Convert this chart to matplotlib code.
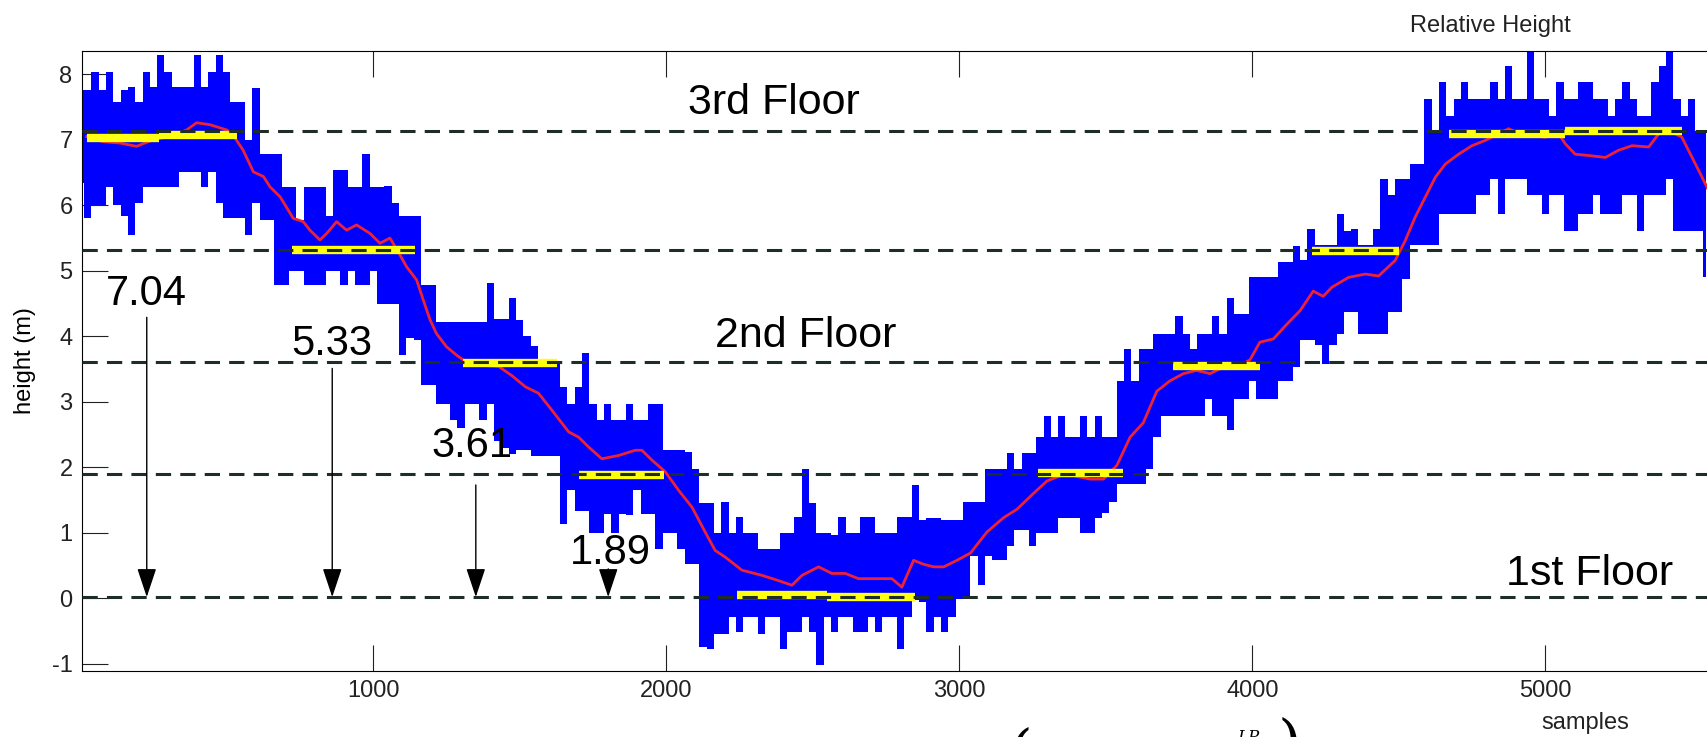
import matplotlib
matplotlib.use("Agg")
import matplotlib.pyplot as plt
import numpy as np

# -------------------------
# Global style (MATLAB-like)
# -------------------------
plt.rcParams.update({
    "font.family": ["Liberation Sans", "DejaVu Sans"],
    "font.size": 17,
    "axes.linewidth": 0.8,
    "axes.unicode_minus": False,
    "xtick.direction": "in",
    "ytick.direction": "in",
    "xtick.major.size": 19,
    "ytick.major.size": 19,
    "xtick.major.width": 0.8,
    "ytick.major.width": 0.8,
    "xtick.labelsize": 17,
    "ytick.labelsize": 17,
})

# -------------------------
# Data
# -------------------------
# raw barometer trace: upper / lower envelope every 25 samples
step_samples = 25
blue_upper = [
    7.76, 7.76, 8.04, 7.76, 8.04, 7.58, 7.76, 7.81,   # 0-175
    7.58, 8.04, 7.81, 8.30, 8.04, 7.81, 7.81, 7.81,   # 200-375
    8.30, 7.81, 8.04, 8.30, 8.04, 7.58, 7.58, 7.00,   # 400-575
    7.79, 6.79, 6.79, 6.79, 6.28, 6.28, 5.78, 6.28,   # 600-775
    6.28, 6.28, 5.83, 6.54, 6.54, 6.28, 6.28, 6.79,   # 800-975
    6.28, 6.28, 6.30, 6.03, 5.83, 5.83, 5.83, 4.78,   # 1000-1175
    4.78, 4.22, 4.22, 4.22, 4.22, 4.22, 4.22, 4.22,   # 1200-1375
    4.81, 4.27, 4.27, 4.58, 4.25, 4.00, 3.85, 3.58,   # 1400-1575
    3.58, 3.58, 3.23, 2.97, 3.23, 3.74, 2.97, 2.72,   # 1600-1775
    2.97, 2.72, 2.72, 2.97, 2.72, 2.72, 2.97, 2.97,   # 1800-1975
    2.26, 2.26, 2.26, 2.23, 1.98, 1.45, 1.45, 0.99,   # 2000-2175
    1.47, 0.99, 1.24, 0.99, 0.99, 0.76, 0.76, 0.76,   # 2200-2375
    0.99, 0.99, 1.24, 1.98, 1.45, 0.99, 0.99, 0.96,   # 2400-2575
    1.24, 0.99, 0.99, 1.24, 1.24, 0.99, 0.99, 0.99,   # 2600-2775
    1.24, 1.24, 1.73, 1.20, 1.23, 1.23, 1.20, 1.20,   # 2800-2975
    1.20, 1.47, 1.47, 1.47, 1.98, 1.98, 1.98, 2.22,   # 3000-3175
    1.98, 2.22, 2.22, 2.46, 2.78, 2.46, 2.78, 2.46,   # 3200-3375
    2.46, 2.78, 2.46, 2.78, 2.46, 2.46, 3.32, 3.80,   # 3400-3575
    3.32, 3.80, 3.80, 4.04, 4.04, 4.04, 4.31, 4.04,   # 3600-3775
    3.80, 4.04, 4.04, 4.31, 4.04, 4.58, 4.34, 4.34,   # 3800-3975
    4.90, 4.90, 4.90, 4.90, 5.14, 5.14, 5.38, 5.16,   # 4000-4175
    5.64, 5.39, 5.39, 5.39, 5.87, 5.61, 5.64, 5.39,   # 4200-4375
    5.39, 5.64, 6.40, 6.15, 6.40, 6.40, 6.63, 6.63,   # 4400-4575
    7.62, 7.14, 7.88, 7.37, 7.62, 7.88, 7.62, 7.62,   # 4600-4775
    7.62, 7.88, 7.62, 8.13, 7.62, 7.62, 8.35, 7.62,   # 4800-4975
    7.62, 7.37, 7.88, 7.62, 7.62, 7.88, 7.88, 7.62,   # 5000-5175
    7.62, 7.37, 7.62, 7.88, 7.62, 7.37, 7.37, 7.88,   # 5200-5375
    8.13, 8.35, 7.62, 7.37, 7.62, 7.14, 7.14,         # 5400-5550
]
blue_lower = [
    6.34, 5.80, 6.00, 6.00, 6.28, 6.00, 5.83, 5.55,
    6.03, 6.28, 6.28, 6.28, 6.28, 6.28, 6.51, 6.51,
    6.51, 6.28, 6.51, 6.03, 5.80, 5.80, 5.80, 5.55,
    6.03, 5.77, 5.77, 4.78, 4.78, 5.00, 5.00, 4.78,
    4.78, 4.78, 5.00, 5.00, 4.78, 5.00, 4.78, 4.78,
    5.00, 4.50, 4.50, 4.50, 3.71, 3.97, 3.95, 3.25,
    3.25, 2.97, 2.97, 2.72, 2.60, 2.97, 2.97, 2.72,
    2.97, 2.40, 2.30, 2.20, 2.26, 2.26, 2.18, 2.18,
    2.18, 2.18, 1.14, 1.65, 1.34, 1.34, 0.99, 0.99,
    1.29, 0.99, 1.29, 1.27, 1.65, 1.29, 1.29, 0.76,
    0.99, 0.99, 0.76, 0.53, 0.53, -0.74, -0.77, -0.54,
    -0.54, -0.29, -0.51, -0.29, -0.29, -0.54, -0.29, -0.29,
    -0.77, -0.51, -0.51, -0.29, -0.51, -1.02, -0.29, -0.51,
    -0.29, -0.29, -0.51, -0.51, -0.29, -0.51, -0.29, -0.29,
    -0.77, -0.29, -0.03, -0.05, -0.52, -0.28, -0.52, -0.28,
    -0.01, -0.01, 0.64, 0.21, 0.64, 0.59, 0.59, 0.80,
    1.04, 1.04, 0.80, 1.00, 1.00, 1.00, 1.23, 1.23,
    1.23, 1.00, 1.00, 1.23, 1.31, 1.47, 1.74, 1.74,
    1.74, 1.74, 1.98, 2.46, 2.78, 2.78, 2.78, 2.78,
    2.78, 2.78, 3.05, 2.78, 2.78, 2.57, 3.05, 3.05,
    3.32, 3.05, 3.05, 3.05, 3.32, 3.32, 3.53, 3.94,
    3.94, 3.86, 3.58, 3.86, 4.04, 4.37, 4.37, 4.04,
    4.04, 4.04, 4.04, 4.37, 4.37, 4.88, 5.39, 5.39,
    5.39, 5.39, 5.87, 5.87, 5.87, 5.87, 5.87, 6.15,
    6.15, 6.40, 5.87, 6.40, 6.40, 6.40, 6.15, 6.15,
    5.87, 6.15, 6.15, 5.61, 5.61, 5.87, 5.87, 6.15,
    5.87, 5.87, 5.87, 6.15, 6.15, 5.61, 6.15, 6.15,
    6.15, 6.40, 5.61, 5.61, 5.61, 5.61, 4.90,
]

# smoothed (low-pass) height
red_x = [22, 79, 136, 192, 249, 306, 363, 397, 443, 500, 522, 556, 591, 625, 648,
         682, 727, 761, 784, 818, 841, 875, 909, 943, 989, 1023, 1057, 1085, 1114,
         1148, 1171, 1194, 1216, 1250, 1285, 1307, 1360, 1428, 1473, 1519, 1564,
         1610, 1667, 1701, 1735, 1780, 1837, 1894, 1917, 1951, 1997, 2042, 2088,
         2133, 2167, 2201, 2258, 2327, 2383, 2429, 2463, 2520, 2565, 2611, 2656,
         2725, 2770, 2804, 2844, 2878, 2913, 2947, 2992, 3038, 3094, 3151, 3197,
         3253, 3299, 3344, 3390, 3447, 3492, 3538, 3583, 3628, 3674, 3719, 3765,
         3810, 3856, 3901, 3947, 3992, 4026, 4072, 4117, 4163, 4208, 4242, 4272,
         4329, 4386, 4431, 4488, 4522, 4556, 4590, 4625, 4659, 4704, 4750, 4795,
         4841, 4875, 4909, 4954, 5000, 5046, 5068, 5102, 5148, 5205, 5250, 5296,
         5353, 5387, 5421, 5466, 5501, 5535, 5560]
red_y = [7.05, 6.97, 6.95, 6.90, 7.00, 7.05, 7.15, 7.26, 7.23, 7.15, 7.07, 6.84, 6.51, 6.44, 6.28,
         6.13, 5.80, 5.75, 5.62, 5.47, 5.57, 5.75, 5.62, 5.70, 5.57, 5.42, 5.50, 5.29, 5.06,
         4.86, 4.55, 4.25, 4.04, 3.84, 3.71, 3.64, 3.56, 3.54, 3.40, 3.23, 3.13,
         2.87, 2.54, 2.46, 2.31, 2.13, 2.18, 2.26, 2.26, 2.11, 1.93, 1.65, 1.39,
         1.01, 0.73, 0.63, 0.43, 0.35, 0.27, 0.20, 0.35, 0.48, 0.38, 0.38, 0.30,
         0.30, 0.30, 0.17, 0.58, 0.52, 0.48, 0.48, 0.58, 0.69, 1.01, 1.23, 1.36,
         1.60, 1.79, 1.87, 1.87, 1.82, 1.82, 2.03, 2.46, 2.68, 3.16, 3.32, 3.43,
         3.48, 3.43, 3.53, 3.53, 3.64, 3.91, 3.96, 4.18, 4.39, 4.69, 4.61, 4.75,
         4.90, 4.95, 4.92, 5.16, 5.46, 5.82, 6.12, 6.43, 6.63, 6.78, 6.91, 6.99,
         7.09, 7.17, 7.09, 7.06, 7.04, 7.09, 6.94, 6.78, 6.76, 6.73, 6.84, 6.91,
         6.89, 7.09, 7.14, 7.04, 6.73, 6.43, 6.20]

# detected stationary segments (yellow)
yellow_start = [22, 270, 721, 1307, 1701, 2241, 2548, 3270, 3731, 4204, 4670, 5068]
yellow_end = [270, 534, 1142, 1627, 1991, 2548, 2850, 3560, 4026, 4500, 5068, 5466]
yellow_level = [7.03, 7.08, 5.31, 3.60, 1.89, 0.05, 0.02, 1.92, 3.54, 5.30, 7.09, 7.13]

# reference floor levels (dashed)
floor_levels = [0.02, 1.90, 3.61, 5.31, 7.13]

# height annotations
height_labels = ["7.04", "5.33", "3.61", "1.89"]
label_x = [227, 857, 1337, 1808]
label_y = [4.48, 3.71, 2.16, 0.53]
arrow_x = [227, 860, 1350, 1802]
arrow_top = [4.29, 3.51, 1.73, 0.45]

floor_names = ["3rd Floor", "2nd Floor", "1st Floor"]
floor_x = [2367, 2476, 5150]
floor_y = [7.39, 3.83, 0.21]

x_ticks = [1000, 2000, 3000, 4000, 5000]
y_ticks = [-1, 0, 1, 2, 3, 4, 5, 6, 7, 8]

# -------------------------
# Figure (axes run past the right edge, as in the cropped original)
# -------------------------
W, H = 1707, 737
fig = plt.figure(figsize=(W / 100, H / 100), dpi=100)
ax = fig.add_axes([82.3 / W, 1 - 670.7 / H, 1.0287, 620.0 / H])
ax.set_xlim(7, 6000)
ax.set_ylim(-1.105, 8.36)

samples = np.arange(len(blue_upper)) * step_samples
ax.fill_between(samples, blue_lower, blue_upper, step="mid",
                color="#0000FF", linewidth=0, zorder=2)
ax.plot(red_x, red_y, color="#EE2233", linewidth=2.0, zorder=3)
ax.hlines(yellow_level, yellow_start, yellow_end, colors="#FFFF10",
          linewidth=6, zorder=4)
for lvl in floor_levels:
    ax.axhline(lvl, color="#1F2D27", linewidth=2.2, dashes=(5, 3), zorder=5)

for txt, tx, ty in zip(height_labels, label_x, label_y):
    ax.text(tx, ty, txt, fontsize=30, ha="center", va="baseline", zorder=7)
for ax_x, top in zip(arrow_x, arrow_top):
    ax.annotate("", xy=(ax_x, floor_levels[0]), xytext=(ax_x, top),
                arrowprops=dict(arrowstyle="-|>,head_length=0.9,head_width=0.3",
                                color="black", lw=1.0, shrinkA=0, shrinkB=0,
                                mutation_scale=20),
                zorder=7)
for txt, tx, ty in zip(floor_names, floor_x, floor_y):
    ax.text(tx, ty, txt, fontsize=31, ha="center", va="baseline", zorder=7)

ax.set_xticks(x_ticks)
ax.set_yticks(y_ticks)
ax.tick_params(top=True, right=True, pad=7, colors="#222222")
ax.set_ylabel("height (m)", fontsize=17, va="center")
ax.yaxis.set_label_coords(-0.0326, 0.5)

fig.text(1490 / W, 1 - 31.7 / H, "Relative Height", fontsize=17,
         ha="center", va="baseline", color="#222222")
fig.text(1585 / W, 1 - 729 / H, "samples", fontsize=17,
         ha="center", va="baseline", color="#222222")

# fragments of the equation printed under the figure (cut off by the crop)
fig.text(1008 / W, 1 - 726 / H, "(", fontsize=44, family="DejaVu Serif",
         ha="left", va="top")
fig.text(1248 / W, 1 - 729 / H, "LP", fontsize=12, family="DejaVu Serif",
         style="italic", ha="center", va="top")
fig.text(1278 / W, 1 - 716 / H, ")", fontsize=44, family="DejaVu Serif",
         ha="left", va="top")

fig.savefig("out.png", dpi=100)
